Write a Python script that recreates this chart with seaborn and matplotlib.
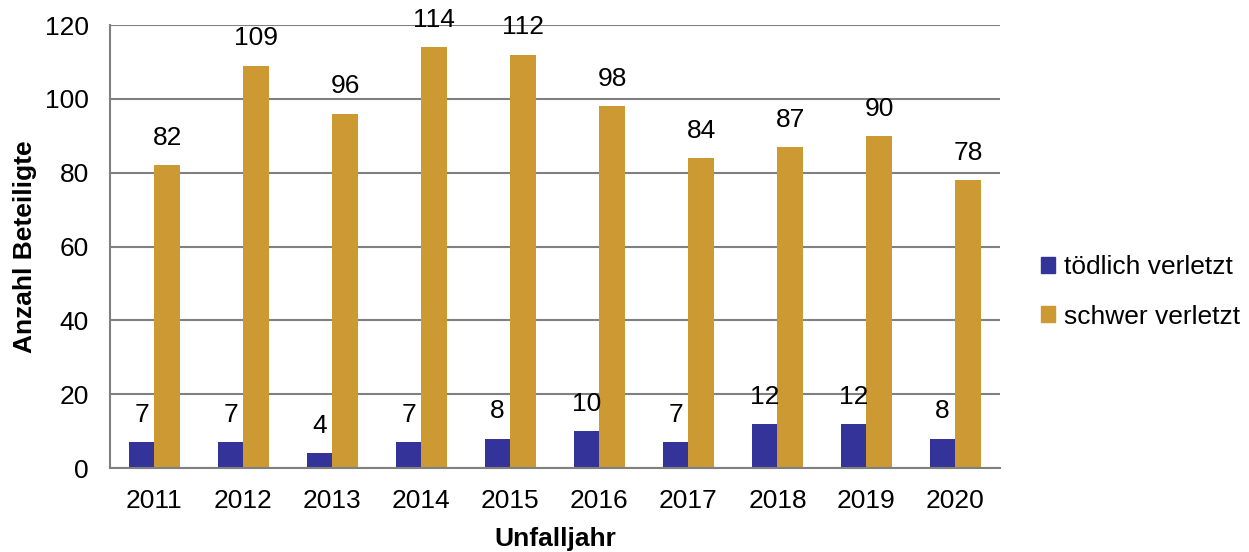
import matplotlib
matplotlib.use("Agg")
import matplotlib.pyplot as plt
import seaborn as sns
import pandas as pd

years = ["2011", "2012", "2013", "2014", "2015", "2016", "2017", "2018", "2019", "2020"]
toedlich = [7, 7, 4, 7, 8, 10, 7, 12, 12, 8]
schwer = [82, 109, 96, 114, 112, 98, 84, 87, 90, 78]
series_names = ["tödlich verletzt", "schwer verletzt"]
colors = ["#333399", "#CC9933"]

df = pd.DataFrame({
    "Unfalljahr": years * 2,
    "Anzahl": toedlich + schwer,
    "Kategorie": [series_names[0]] * len(years) + [series_names[1]] * len(years),
})

sns.set_theme(style="white")
plt.rcParams["font.family"] = ["Liberation Sans", "DejaVu Sans"]
plt.rcParams["text.color"] = "black"
plt.rcParams["axes.labelcolor"] = "black"
FS = 19

fig = plt.figure(figsize=(12.49, 5.52), dpi=100)
ax = fig.add_axes([0.088, 0.152, 0.7126, 0.8027])

sns.barplot(data=df, x="Unfalljahr", y="Anzahl", hue="Kategorie",
            palette=colors, width=0.575, ax=ax, legend=False,
            saturation=1, edgecolor="none", linewidth=0)

ax.set_ylim(0, 120)
ax.set_yticks(range(0, 121, 20))
ax.set_xlim(-0.5, len(years) - 0.5)
ax.yaxis.grid(True, color="#808080", linewidth=1.5)
ax.set_axisbelow(True)
for side in ["top", "right"]:
    ax.spines[side].set_visible(False)
for side in ["left", "bottom"]:
    ax.spines[side].set_color("#808080")
    ax.spines[side].set_linewidth(1.5)
ax.tick_params(axis="both", length=0, labelsize=FS, colors="black")
ax.tick_params(axis="y", pad=15)
ax.tick_params(axis="x", pad=15)

for container in ax.containers:
    ax.bar_label(container, fmt="%d", padding=11, fontsize=FS, color="black")

ax.set_xlabel("Unfalljahr", fontsize=FS, fontweight="bold", labelpad=10,
              color="black")
ax.set_ylabel("Anzahl Beteiligte", fontsize=FS, fontweight="bold", labelpad=6,
              color="black")

handles = [plt.Rectangle((0, 0), 1, 1, color=c) for c in colors]
fig.legend(handles, series_names, loc="center left",
           bbox_to_anchor=(0.829, 0.471), frameon=False, fontsize=FS,
           labelcolor="black",
           handlelength=0.55, handleheight=0.55, handletextpad=0.35,
           labelspacing=0.95, borderpad=0.2, borderaxespad=0)

fig.savefig("out.png", dpi=100)
